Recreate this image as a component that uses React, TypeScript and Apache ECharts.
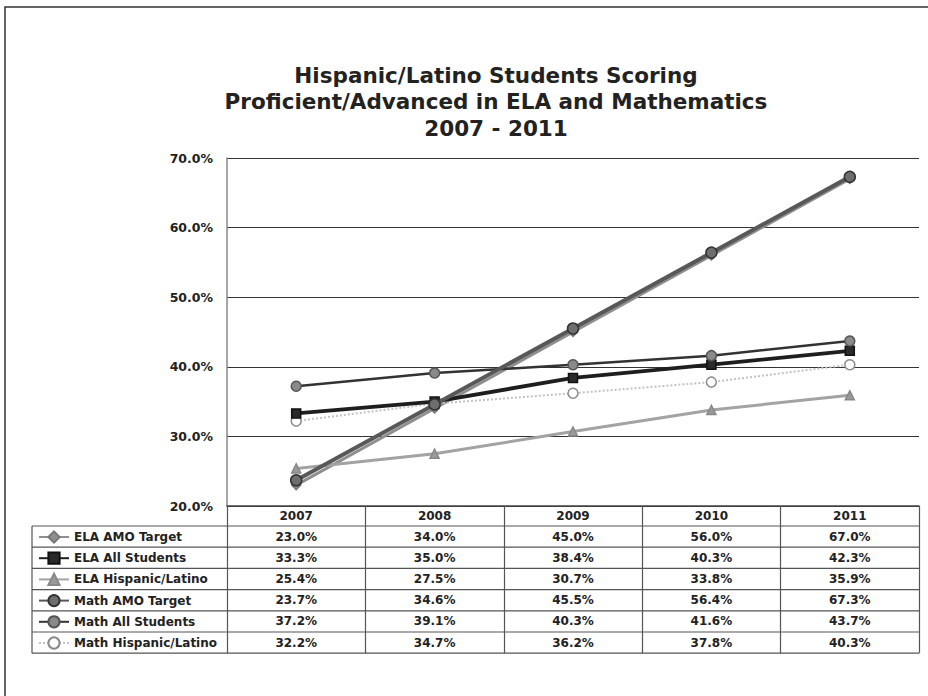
import React, { useEffect, useRef } from "react";
import * as echarts from "echarts";

const years = ["2007", "2008", "2009", "2010", "2011"];
const seriesNames = [
  "ELA AMO Target",
  "ELA All Students",
  "ELA Hispanic/Latino",
  "Math AMO Target",
  "Math All Students",
  "Math Hispanic/Latino",
];
const elaAmoTarget = [23.0, 34.0, 45.0, 56.0, 67.0];
const elaAllStudents = [33.3, 35.0, 38.4, 40.3, 42.3];
const elaHispanic = [25.4, 27.5, 30.7, 33.8, 35.9];
const mathAmoTarget = [23.7, 34.6, 45.5, 56.4, 67.3];
const mathAllStudents = [37.2, 39.1, 40.3, 41.6, 43.7];
const mathHispanic = [32.2, 34.7, 36.2, 37.8, 40.3];
const yTicks = { min: 20, max: 70, interval: 10 };

const allValues = [
  elaAmoTarget,
  elaAllStudents,
  elaHispanic,
  mathAmoTarget,
  mathAllStudents,
  mathHispanic,
];

const FONT = "'DejaVu Sans', Verdana, sans-serif";

export default function App() {
  const ref = useRef<HTMLDivElement>(null);
  useEffect(() => {
    if (!ref.current) return;
    const chart = echarts.init(ref.current, undefined, { renderer: "svg" });

    const gridLeft = 227;
    const gridTop = 158;
    const gridWidth = 692;
    const gridHeight = 348;
    const gridBottomY = gridTop + gridHeight; // 506
    const tableLeft = 32;
    const tableRight = gridLeft + gridWidth;
    const rowTop0 = 526;
    const rowH = 21.2;
    const tableBottom = rowTop0 + rowH * 6;

    const styles = [
      { color: "#8f8f8f", width: 3, symbol: "diamond", size: 9, fill: "#8f8f8f", border: "#777", type: "solid" },
      { color: "#1e1e1e", width: 3.8, symbol: "rect", size: 9, fill: "#2a2a2a", border: "#111", type: "solid" },
      { color: "#a3a3a3", width: 3, symbol: "triangle", size: 9, fill: "#9a9a9a", border: "#888", type: "solid" },
      { color: "#585858", width: 4, symbol: "circle", size: 11, fill: "#6e6e6e", border: "#333", type: "solid" },
      { color: "#333333", width: 2.5, symbol: "circle", size: 10, fill: "#8a8a8a", border: "#555", type: "solid" },
      { color: "#c2c2c2", width: 2, symbol: "circle", size: 10, fill: "#ffffff", border: "#8a8a8a", type: "dotted" },
    ];

    const series: any[] = allValues.map((vals, i) => ({
      name: seriesNames[i],
      type: "line",
      data: vals,
      xAxisIndex: 0,
      yAxisIndex: 0,
      symbol: styles[i].symbol,
      symbolSize: styles[i].size,
      showAllSymbol: true,
      lineStyle: { color: styles[i].color, width: styles[i].width, type: styles[i].type },
      itemStyle: { color: styles[i].fill, borderColor: styles[i].border, borderWidth: 1.5 },
      z: [2, 4, 3, 5, 4, 3][i],
    }));

    const extraAxes = allValues.map((vals, k) => ({
      type: "category",
      gridIndex: 0,
      position: "bottom",
      data: years,
      offset: rowTop0 + rowH * k + rowH / 2 - gridBottomY,
      axisLine: { show: false },
      axisTick: { show: false },
      splitLine: { show: false },
      axisLabel: {
        show: true,
        interval: 0,
        margin: 0,
        verticalAlign: "middle",
        fontFamily: FONT,
        fontWeight: "bold",
        fontSize: 12,
        color: "#222",
        formatter: (_v: string, idx: number) => vals[idx].toFixed(1) + "%",
      },
    }));

    const graphic: any[] = [
      {
        type: "rect",
        shape: { x: 5, y: 7, width: 940, height: 720 },
        style: { fill: "none", stroke: "#333", lineWidth: 1.5 },
        silent: true,
      },
    ];
    for (let k = 0; k <= 6; k++) {
      const y = rowTop0 + rowH * k;
      graphic.push({
        type: "line",
        shape: { x1: tableLeft, y1: y, x2: tableRight, y2: y },
        style: { stroke: "#555", lineWidth: 1.2 },
        silent: true,
      });
    }
    graphic.push({
      type: "line",
      shape: { x1: tableLeft, y1: rowTop0, x2: tableLeft, y2: tableBottom },
      style: { stroke: "#555", lineWidth: 1.2 },
      silent: true,
    });

    const option: any = {
      animation: false,
      backgroundColor: "#ffffff",
      title: {
        text: "Hispanic/Latino Students Scoring\nProficient/Advanced in ELA and Mathematics\n2007 - 2011",
        left: 491,
        textAlign: "center",
        top: 57,
        textStyle: {
          fontFamily: FONT,
          fontWeight: "bold",
          fontSize: 21.5,
          lineHeight: 26.5,
          color: "#222",
        },
      },
      legend: {
        orient: "vertical",
        left: 33,
        top: rowTop0 - 1,
        itemWidth: 30,
        itemHeight: 14,
        itemGap: rowH - 14,
        data: seriesNames,
        textStyle: {
          fontFamily: FONT,
          fontWeight: "bold",
          fontSize: 12,
          lineHeight: 14,
          color: "#222",
        },
        selectedMode: false,
      },
      grid: { left: gridLeft, top: gridTop, width: gridWidth, height: gridHeight, containLabel: false },
      xAxis: [
        {
          type: "category",
          data: years,
          boundaryGap: true,
          axisLine: { show: true, lineStyle: { color: "#444", width: 1.5 } },
          axisTick: { show: true, interval: 0, length: tableBottom - gridBottomY, lineStyle: { color: "#555", width: 1.2 } },
          axisLabel: {
            interval: 0,
            margin: 10,
            verticalAlign: "middle",
            fontFamily: FONT,
            fontWeight: "bold",
            fontSize: 12,
            color: "#222",
          },
        },
        ...extraAxes,
      ],
      yAxis: {
        type: "value",
        min: yTicks.min,
        max: yTicks.max,
        interval: yTicks.interval,
        axisLine: { show: true, lineStyle: { color: "#888", width: 1.5 } },
        axisTick: { show: false },
        splitLine: { show: true, lineStyle: { color: "#333", width: 1.2 } },
        axisLabel: {
          margin: 14,
          fontFamily: FONT,
          fontWeight: "bold",
          fontSize: 12.5,
          color: "#222",
          formatter: (v: number) => v.toFixed(1) + "%",
        },
      },
      series,
      graphic,
    };
    chart.setOption(option);
    return () => chart.dispose();
  }, []);
  return (
    <div
      ref={ref}
      style={{ position: "fixed", left: 0, top: 0, width: 928, height: 696 }}
    />
  );
}
